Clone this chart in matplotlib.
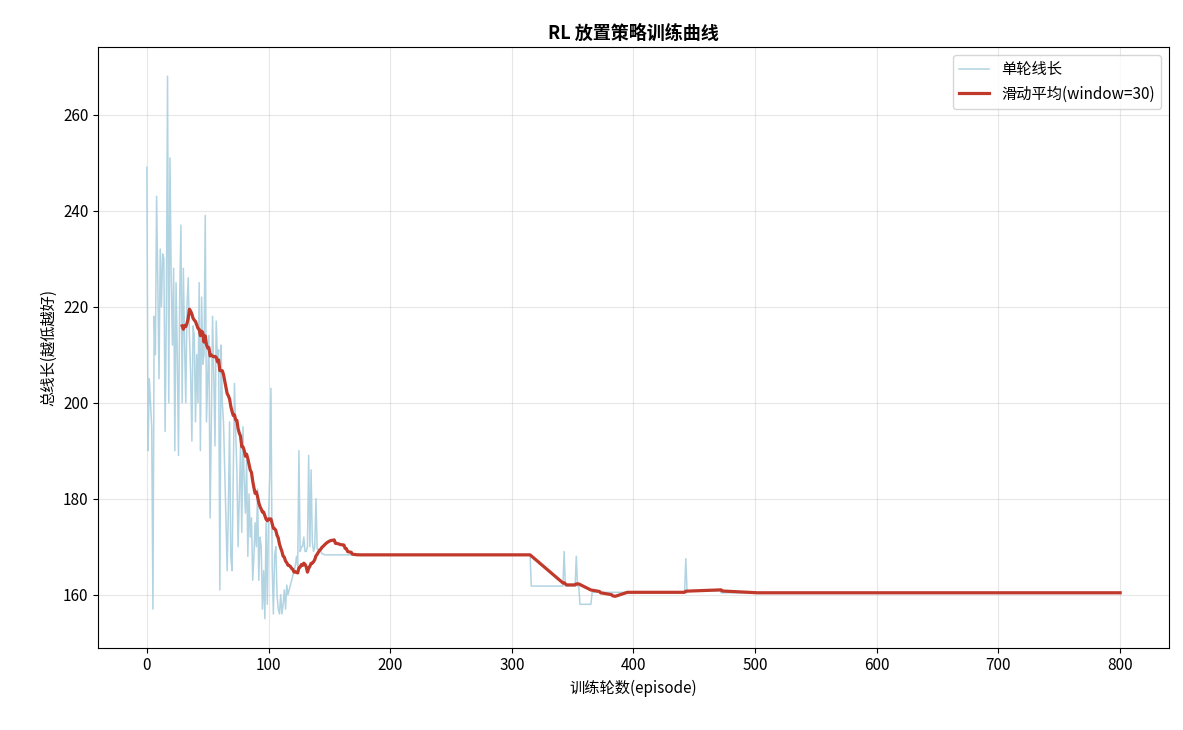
import matplotlib
matplotlib.use("Agg")
import matplotlib.pyplot as plt
import pandas as pd
import numpy as np

plt.rcParams['font.family'] = ['Noto Sans CJK SC', 'DejaVu Sans']
plt.rcParams['axes.unicode_minus'] = False

early = [249,190,205,200,195,157,218,210,243,225,205,232,220,231,230,194,218,268,200,251,226,212,228,190,225,210,189,222,237,200,
         228,212,200,220,226,214,206,192,216,214,196,210,200,225,190,222,208,210,239,196,205,214,176,196,218,206,191,217,209,211,
         161,212,200,196,186,176,165,178,196,168,165,184,204,194,186,170,181,191,173,195,184,177,188,168,181,172,176,163,168,175,
         170,182,163,172,170,157,165,155,175,158,176,185,203,166,156,168,170,160,157,156,160,156,158,161,157,162,160,161,162,163,
         164,165,166,168,166,190,169,170,170,172,169,169,170,189,170,186,171,169,170,180,169.5,169.5,169,169,168.5,168.5]
plateau1 = [168.3] * (316 - len(early))
mid = [161.8]*27 + [169] + [161.8]*9 + [168] + [161.8]*2 + [158]*10 + [160.5]*30
plateau2 = [160.5]*(443 - 316 - len(mid)) + [167.5] + [160.8]*28
plateau3 = [160.4] * (801 - 316 - len(mid) - len(plateau2))
raw = (early + plateau1 + mid + plateau2 + plateau3)[:801]
episodes = np.arange(len(raw))
window = 30
smooth = pd.Series(raw).rolling(window).mean()

fig, ax = plt.subplots(figsize=(11.83, 7.3), dpi=100)
ax.plot(episodes, raw, color='#a9cfdf', lw=1.1, alpha=0.9, label='单轮线长')
ax.plot(episodes, smooth, color='#c0392b', lw=2.3, label=f'滑动平均(window={window})')
ax.set_title('RL 放置策略训练曲线', fontsize=13, fontweight='bold')
ax.set_xlabel('训练轮数(episode)', fontsize=11)
ax.set_ylabel('总线长(越低越好)', fontsize=11)
ax.set_xticks(range(0, 801, 100))
ax.set_yticks(range(160, 261, 20))
ax.tick_params(labelsize=11)
ax.set_ylim(149, 274)
ax.grid(alpha=0.3)
ax.legend(fontsize=11, loc='upper right')
fig.subplots_adjust(left=0.083, right=0.988, top=0.935, bottom=0.113)
fig.savefig('out.png')
